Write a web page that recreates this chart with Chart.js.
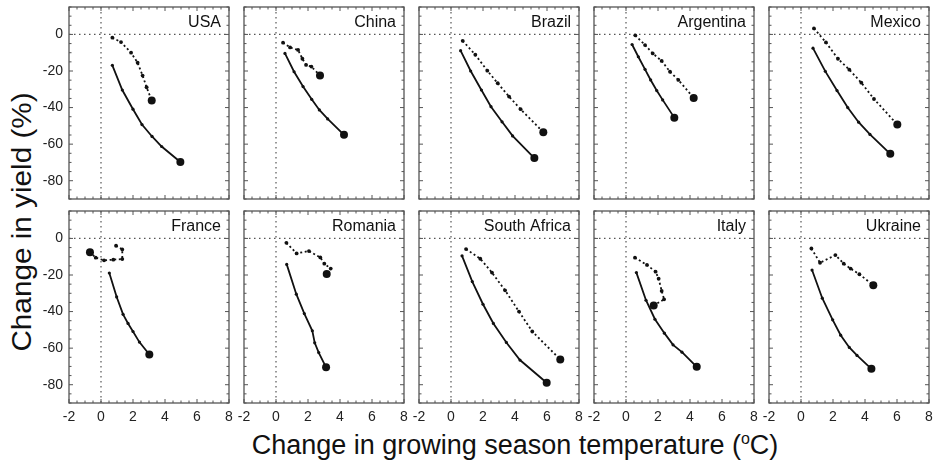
<!DOCTYPE html>
<html>
<head>
<meta charset="utf-8">
<script src="https://cdn.jsdelivr.net/npm/chart.js@4.4.1/dist/chart.umd.min.js"></script>
<style>
  body { margin: 0; background: #fff; }
  #wrap { position: relative; width: 939px; height: 467px; overflow: hidden;
          font-family: "Liberation Sans", Arial, sans-serif; color: #111; }
  #wrap canvas { position: absolute; }
  .ytitle { position: absolute; left: 22px; top: 222px; font-size: 27px; line-height: 27px;
            white-space: nowrap; transform: translate(-50%, -50%) rotate(-90deg) scaleX(1.1); }
  .xtitle { position: absolute; left: 515px; top: 432px; font-size: 27px; line-height: 27px;
            white-space: nowrap; transform: translateX(-50%); }
  .xtitle sup { font-size: 16px; vertical-align: 10px; line-height: 0; }
</style>
</head>
<body>
<div id="wrap">
  <div class="ytitle">Change in yield (%)</div>
  <div class="xtitle">Change in growing season temperature (<sup>o</sup>C)</div>
</div>
<script>
const countries = ["USA", "China", "Brazil", "Argentina", "Mexico",
                   "France", "Romania", "South Africa", "Italy", "Ukraine"];

// solid line: temperature change (°C) / yield change (%)
const solidTemp = [
  [0.71, 1.33, 2.00, 2.56, 3.19, 3.79, 4.96],
  [0.56, 1.13, 1.69, 2.23, 2.71, 3.23, 4.25],
  [0.60, 1.23, 1.90, 2.50, 3.19, 3.85, 5.21],
  [0.38, 0.77, 1.19, 1.54, 1.92, 2.29, 3.02],
  [0.75, 1.52, 2.25, 2.92, 3.60, 4.31, 5.58],
  [0.52, 0.98, 1.38, 1.69, 2.00, 2.40, 3.02],
  [0.67, 1.27, 1.77, 2.27, 2.42, 2.67, 3.13],
  [0.69, 1.33, 2.00, 2.65, 3.46, 4.31, 5.98],
  [0.65, 1.25, 1.81, 2.40, 2.94, 3.50, 4.42],
  [0.69, 1.33, 1.98, 2.48, 3.02, 3.50, 4.40]
];
const solidYield = [
  [-16.9, -30.4, -40.9, -49.3, -55.8, -61.3, -69.8],
  [-10.4, -20.4, -28.5, -35.5, -41.3, -46.2, -54.9],
  [-8.9, -20.0, -30.4, -39.5, -47.8, -55.5, -67.6],
  [-5.5, -12.2, -19.1, -24.9, -30.7, -35.8, -45.5],
  [-7.5, -20.2, -30.7, -40.0, -48.0, -54.7, -65.3],
  [-18.9, -32.0, -41.5, -46.5, -50.9, -56.7, -63.5],
  [-14.2, -30.5, -41.1, -50.5, -57.1, -62.4, -70.5],
  [-9.5, -23.6, -36.0, -46.5, -56.9, -66.5, -78.9],
  [-18.7, -33.8, -44.2, -51.8, -58.2, -62.2, -70.2],
  [-17.3, -32.7, -44.5, -52.9, -59.6, -64.0, -71.3]
];

// dotted line
const dottedTemp = [
  [0.71, 1.25, 1.88, 2.29, 2.60, 2.85, 3.17],
  [0.44, 0.88, 1.38, 1.65, 1.88, 2.21, 2.75],
  [0.73, 1.52, 2.27, 2.92, 3.63, 4.35, 5.77],
  [0.58, 1.19, 1.67, 2.23, 2.75, 3.27, 4.23],
  [0.81, 1.56, 2.31, 3.02, 3.77, 4.56, 6.02],
  [0.94, 1.33, 1.33, 0.77, 0.19, -0.33, -0.69],
  [0.65, 1.29, 2.06, 2.77, 3.02, 3.42, 3.17],
  [0.94, 1.83, 2.56, 3.38, 4.25, 5.08, 6.83],
  [0.56, 1.31, 1.85, 2.04, 2.23, 2.38, 1.73],
  [0.65, 1.19, 2.15, 2.67, 3.10, 3.65, 4.52]
];
const dottedYield = [
  [-1.8, -4.2, -10.0, -15.5, -22.5, -28.9, -36.2],
  [-4.5, -7.1, -8.5, -13.3, -16.7, -17.6, -22.4],
  [-3.5, -11.1, -19.8, -26.7, -34.0, -40.9, -53.5],
  [-0.5, -5.8, -10.4, -14.5, -20.4, -24.9, -34.7],
  [3.3, -4.4, -13.3, -19.3, -26.4, -35.3, -49.3],
  [-4.0, -6.0, -11.3, -11.6, -12.0, -10.5, -7.5],
  [-2.4, -8.2, -6.9, -10.4, -13.8, -16.5, -19.5],
  [-5.8, -11.1, -18.7, -28.4, -40.0, -50.9, -66.2],
  [-10.5, -14.5, -18.2, -22.0, -28.7, -33.3, -36.7],
  [-5.5, -13.3, -9.1, -13.8, -16.5, -19.6, -25.6]
];

const xTicks = [-2, 0, 2, 4, 6, 8];
const yTicks = [0, -20, -40, -60, -80];

/* ===== frame, inward ticks, zero lines, panel name ===== */
const panelDeco = {
  id: "panelDeco",
  beforeDatasetsDraw(chart) {
    const { ctx, chartArea: a, scales: { x, y } } = chart;
    ctx.save();
    ctx.strokeStyle = "#555";
    ctx.lineWidth = 1.2;
    ctx.setLineDash([1.5, 3.5]);
    const x0 = x.getPixelForValue(0);
    const y0 = y.getPixelForValue(0);
    ctx.beginPath();
    ctx.moveTo(x0, a.top); ctx.lineTo(x0, a.bottom);
    ctx.moveTo(a.left, y0); ctx.lineTo(a.right, y0);
    ctx.stroke();
    ctx.restore();
  },
  afterDatasetsDraw(chart, args, opts) {
    const { ctx, chartArea: a, scales: { x, y } } = chart;
    ctx.save();
    ctx.strokeStyle = "#555";
    ctx.lineWidth = 1.3;
    ctx.strokeRect(a.left, a.top, a.right - a.left, a.bottom - a.top);

    ctx.lineWidth = 1;
    ctx.beginPath();
    for (let v = -2; v <= 8.001; v += 0.5) {
      const px = x.getPixelForValue(v);
      const len = v % 2 === 0 ? 4 : 2.5;
      ctx.moveTo(px, a.bottom); ctx.lineTo(px, a.bottom - len);
      ctx.moveTo(px, a.top); ctx.lineTo(px, a.top + len);
    }
    for (let v = -90; v <= 15; v += 5) {
      const py = y.getPixelForValue(v);
      const len = v % 20 === 0 ? 4 : 2.5;
      ctx.moveTo(a.left, py); ctx.lineTo(a.left + len, py);
      ctx.moveTo(a.right, py); ctx.lineTo(a.right - len, py);
    }
    ctx.stroke();

    ctx.fillStyle = "#111";
    ctx.font = '16px "Liberation Sans", Arial, sans-serif';
    ctx.textAlign = "right";
    ctx.textBaseline = "alphabetic";
    ctx.fillText(opts.name, a.right - 8, a.top + 20);
    ctx.restore();
  }
};

function toPoints(xs, ys) {
  return xs.map((t, k) => ({ x: t, y: ys[k] }));
}

function sizes(n, small, big) {
  return Array.from({ length: n }, (_, k) => (k === n - 1 ? big : small));
}

// fix a scale's box size and drop the label overflow padding
function fixBox(s, w, h) {
  if (w !== null) s.width = w;
  if (h !== null) s.height = h;
  s.paddingLeft = s.paddingRight = s.paddingTop = s.paddingBottom = 0;
}

const wrap = document.getElementById("wrap");
const tickFont = { family: '"Liberation Sans", Arial, sans-serif', size: 14 };

countries.forEach((name, i) => {
  const col = i % 5;
  const row = Math.floor(i / 5);
  const fx = 69 + 175 * col;
  const fy = 7 + 204 * row;
  const ml = col === 0 ? 50 : 14;
  const mr = 12;
  const mt = 4;
  const mb = row === 1 ? 30 : 4;
  const yLabels = col === 0;
  const xLabels = row === 1;

  const canvas = document.createElement("canvas");
  canvas.width = ml + 160 + mr;
  canvas.height = mt + 192 + mb;
  canvas.style.left = (fx - ml) + "px";
  canvas.style.top = (fy - mt) + "px";
  wrap.appendChild(canvas);

  new Chart(canvas, {
    type: "scatter",
    data: {
      datasets: [
        {
          data: toPoints(dottedTemp[i], dottedYield[i]),
          showLine: true,
          borderColor: "#111",
          backgroundColor: "#111",
          borderWidth: 1.8,
          borderDash: [2, 2.6],
          pointRadius: sizes(dottedTemp[i].length, 1.9, 4),
          pointBorderWidth: 0
        },
        {
          data: toPoints(solidTemp[i], solidYield[i]),
          showLine: true,
          borderColor: "#111",
          backgroundColor: "#111",
          borderWidth: 1.8,
          pointRadius: sizes(solidTemp[i].length, 1.6, 4),
          pointBorderWidth: 0
        }
      ]
    },
    options: {
      responsive: false,
      animation: false,
      events: [],
      layout: {
        padding: { left: yLabels ? 0 : ml, right: mr, top: mt, bottom: xLabels ? 0 : mb },
        autoPadding: false
      },
      scales: {
        x: {
          type: "linear", min: -2, max: 8,
          afterBuildTicks: s => { s.ticks = xTicks.map(v => ({ value: v })); },
          afterFit: s => fixBox(s, null, xLabels ? mb : 0),
          grid: { display: false, drawTicks: false },
          border: { display: false },
          ticks: { display: xLabels, padding: 6, font: tickFont, color: "#222",
                   maxRotation: 0, autoSkip: false, callback: v => String(v) }
        },
        y: {
          type: "linear", min: -90, max: 15,
          afterBuildTicks: s => { s.ticks = yTicks.map(v => ({ value: v })); },
          afterFit: s => fixBox(s, yLabels ? ml : 0, null),
          grid: { display: false, drawTicks: false },
          border: { display: false },
          ticks: { display: yLabels, padding: 6, font: tickFont, color: "#222",
                   autoSkip: false, callback: v => String(v) }
        }
      },
      plugins: {
        legend: { display: false },
        tooltip: { enabled: false },
        panelDeco: { name: name }
      }
    },
    plugins: [panelDeco]
  });
});
</script>
</body>
</html>
